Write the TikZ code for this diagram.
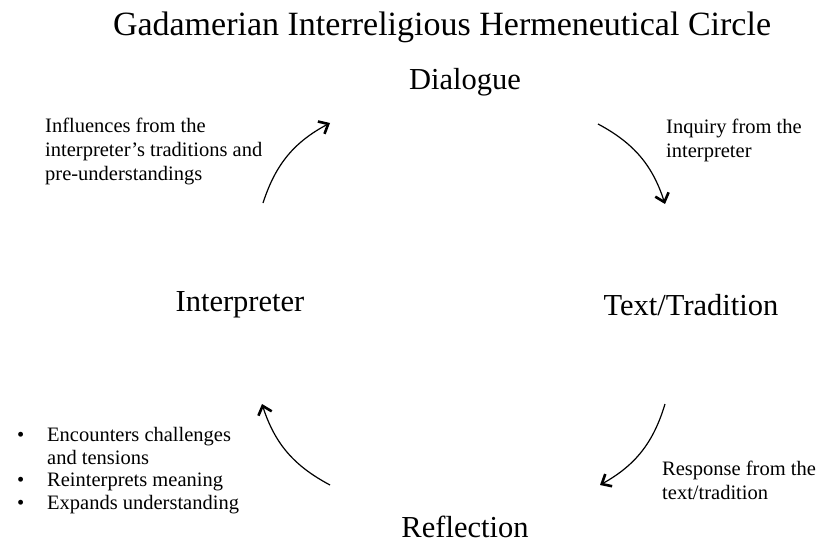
\documentclass[tikz,border=0pt]{standalone}
\usepackage{fontspec}
\setmainfont{Liberation Serif}
\usetikzlibrary{arrows.meta}
\begin{document}
\begin{tikzpicture}[x=1pt,y=-1pt,
  big/.style={font=\fontsize{30.5}{34}\selectfont, inner sep=0pt},
  small/.style={font=\fontsize{20.5}{24}\selectfont, align=left, inner sep=0pt, anchor=north west},
  flow/.style={line width=1.2pt, -{Straight Barb[length=8pt,width=14pt,line width=2.6pt]}, bend left=22}]
\useasboundingbox (0,0) rectangle (817,543);
\node[font=\fontsize{34}{38}\selectfont, inner sep=0pt] (title) at (442,27) {Gadamerian Interreligious Hermeneutical Circle};
\node[big] (dia) at (465,82) {Dialogue};
\node[big] (int) at (240,305) {Interpreter};
\node[big] (txt) at (691,305) {Text/Tradition};
\node[big] (ref) at (465,527) {Reflection};
\node[small] (l1) at (45,118) {Influences from the\\interpreter’s traditions and\\pre-understandings};
\node[small] (l2) at (666,119) {Inquiry from the\\interpreter};
\node[small] (l3) at (662,461) {Response from the\\text/tradition};
\node[small, font=\fontsize{20.5}{22.5}\selectfont] (l4) at (17,426) {\begin{tabular}{@{}l@{\hspace{22.8pt}}l@{}}
\textbullet & Encounters challenges\\ & and tensions\\
\textbullet & Reinterprets meaning\\
\textbullet & Expands understanding\end{tabular}};
\coordinate (a1s) at (263,203); \coordinate (a1e) at (330,123);
\coordinate (a2s) at (598,124); \coordinate (a2e) at (665,204);
\coordinate (a3s) at (665,404); \coordinate (a3e) at (600,485);
\coordinate (a4s) at (330,485); \coordinate (a4e) at (262,404);
\draw[flow] (a1s) to (a1e);
\draw[flow] (a2s) to (a2e);
\draw[flow] (a3s) to (a3e);
\draw[flow] (a4s) to (a4e);
\end{tikzpicture}
\end{document}
